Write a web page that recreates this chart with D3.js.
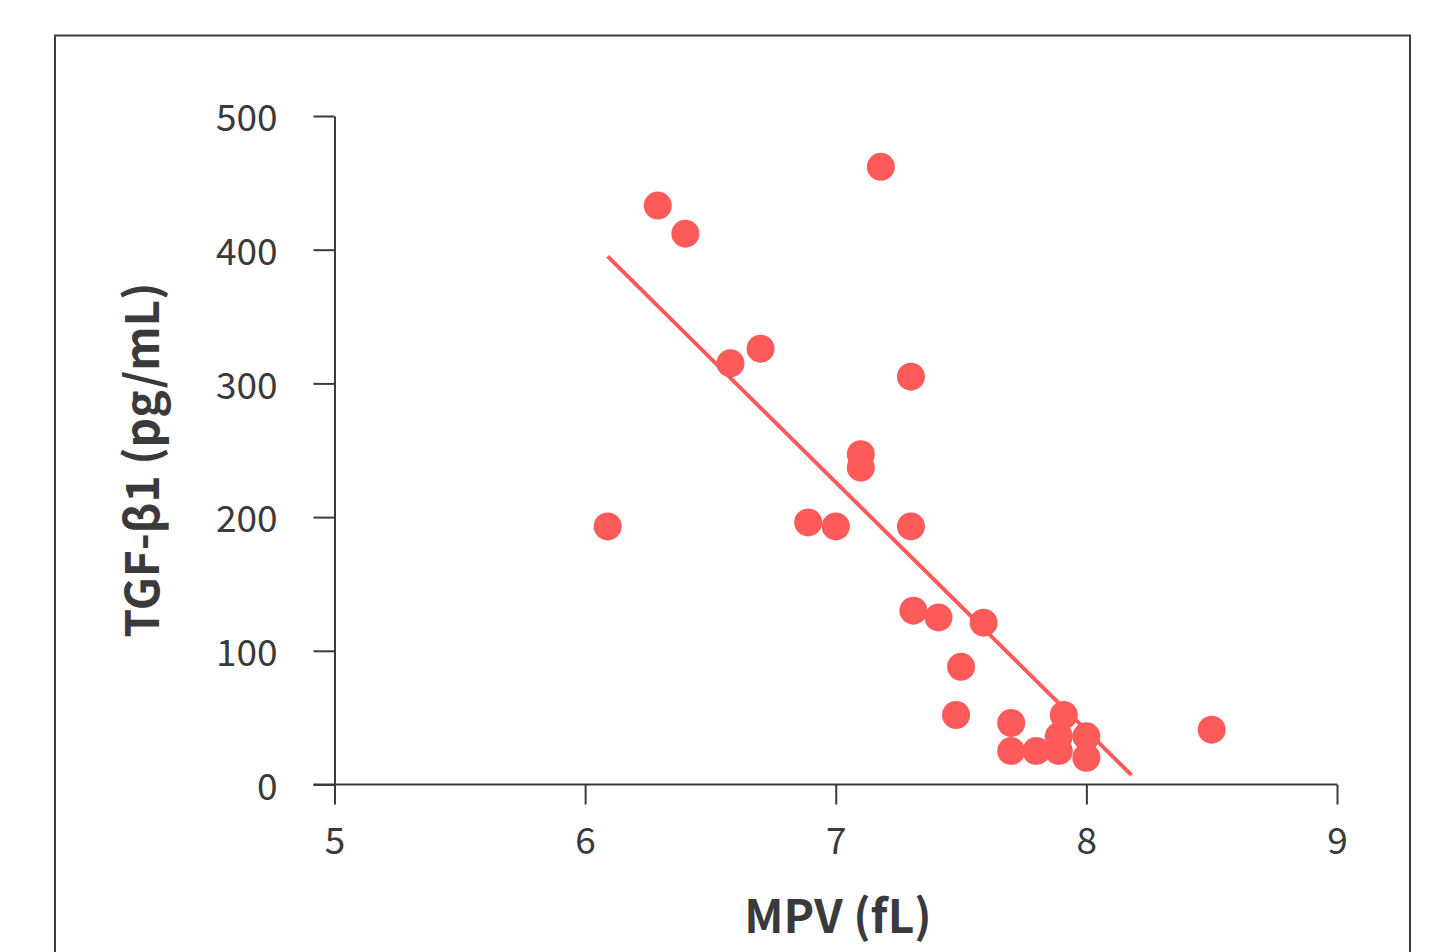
<!DOCTYPE html>
<html>
<head>
<meta charset="utf-8">
<script src="https://cdn.jsdelivr.net/npm/d3@7"></script>
<style>
  html, body { margin: 0; padding: 0; background: #ffffff; }
  svg { display: block; }
  text { font-family: "Noto Sans CJK SC", "Source Sans Pro", "Noto Sans", sans-serif; }
</style>
</head>
<body>
<svg id="chart" width="1448" height="952"></svg>
<script>
// ---- data ----
const mpv = [6.09, 6.29, 6.40, 7.18, 6.58, 6.70, 7.30, 7.10, 7.10, 6.89, 7.00, 7.30,
             7.31, 7.41, 7.59, 7.50, 7.48, 7.70, 7.70, 7.80, 7.91, 7.89, 7.89, 8.00, 8.00, 8.50];
const tgf = [193, 433, 412, 462, 315, 326, 305, 247, 237, 196, 193, 193,
             130, 125, 121, 88, 52, 46, 25, 25, 52, 36, 25, 36, 20, 41];
const fitX = [6.09, 8.18];
const fitY = [395, 7];
const xTicks = [5, 6, 7, 8, 9];
const yTicks = [0, 100, 200, 300, 400, 500];
const xTitle = "MPV (fL)";
const yTitle = "TGF-β1 (pg/mL)";

const red = "#ff5a5a";
const ink = "#3a3a3a";

const svg = d3.select("#chart");

// frame
svg.append("rect")
  .attr("x", 55).attr("y", 35.5)
  .attr("width", 1355).attr("height", 960)
  .attr("fill", "none").attr("stroke", "#3a3f45").attr("stroke-width", 2);

const x = d3.scaleLinear().domain([5, 9]).range([334.5, 1337]);
const y = d3.scaleLinear().domain([0, 500]).range([784.5, 116]);

// x axis
const gx = svg.append("g").attr("transform", "translate(0,784.5)")
  .call(d3.axisBottom(x).tickValues(xTicks).tickSize(20).tickSizeOuter(0).tickPadding(23)
        .tickFormat(d3.format("d")));
// y axis
const gy = svg.append("g").attr("transform", "translate(334.5,0)")
  .call(d3.axisLeft(y).tickValues(yTicks).tickSize(21).tickSizeOuter(0).tickPadding(36)
        .tickFormat(d3.format("d")));

[gx, gy].forEach(g => {
  g.select(".domain").attr("stroke", ink).attr("stroke-width", 2);
  g.selectAll(".tick line").attr("stroke", ink).attr("stroke-width", 2);
  g.selectAll(".tick text").attr("fill", ink).style("font-size", "37px");
});
// extend x domain line left to y tick end
gx.select(".domain").attr("d", `M${334.5-21},0H${x(9)}`);
gx.selectAll(".tick text").attr("dy", "0.71em");
gy.selectAll(".tick text").attr("dy", "0.4em");

// regression line
svg.append("line")
  .attr("x1", x(fitX[0])).attr("y1", y(fitY[0]))
  .attr("x2", x(fitX[1])).attr("y2", y(fitY[1]))
  .attr("stroke", red).attr("stroke-width", 4);

// points
svg.append("g").selectAll("circle")
  .data(mpv.map((v, i) => [v, tgf[i]]))
  .join("circle")
  .attr("cx", d => x(d[0])).attr("cy", d => y(d[1]))
  .attr("r", 14).attr("fill", red);

// axis titles
svg.append("text")
  .attr("x", 838).attr("y", 933)
  .attr("text-anchor", "middle")
  .attr("fill", ink)
  .style("font-size", "46px").style("font-weight", "700")
  .text(xTitle);

svg.append("text")
  .attr("transform", "translate(159,460) rotate(-90)")
  .attr("text-anchor", "middle")
  .attr("fill", ink)
  .style("font-size", "46px").style("font-weight", "700")
  .text(yTitle);
</script>
</body>
</html>
